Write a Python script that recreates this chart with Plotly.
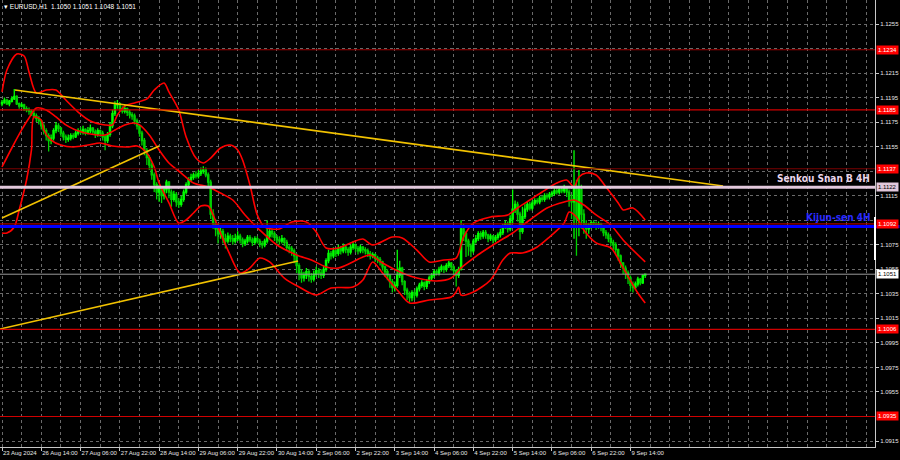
import plotly.graph_objects as go

# ---------------- data (EURUSD H1, bar index 0 = 23 Aug 2024 22:00) ----------------
opens = [1.1190,1.1191,1.1193,1.1190,1.1192,1.1194,1.1196,1.1190,1.1188,1.1189,
 1.1186,1.1185,1.1184,1.1182,1.1180,1.1178,1.1176,1.1172,1.1168,1.1164,
 1.1160,1.1162,1.1168,1.1172,1.1170,1.1166,1.1163,1.1161,1.1162,1.1164,
 1.1163,1.1166,1.1168,1.1167,1.1169,1.1166,1.1168,1.1170,1.1167,1.1165,
 1.1168,1.1166,1.1163,1.1160,1.1165,1.1172,1.1182,1.1189,1.1190,1.1186,
 1.1184,1.1186,1.1183,1.1181,1.1180,1.1176,1.1172,1.1166,1.1160,1.1152,
 1.1146,1.1140,1.1132,1.1124,1.1118,1.1122,1.1115,1.1120,1.1126,1.1118,
 1.1112,1.1116,1.1110,1.1108,1.1112,1.1118,1.1124,1.1128,1.1130,1.1132,
 1.1131,1.1133,1.1135,1.1136,1.1132,1.1126,1.1100,1.1092,1.1088,1.1084,
 1.1086,1.1080,1.1078,1.1082,1.1080,1.1078,1.1080,1.1082,1.1079,1.1076,
 1.1078,1.1081,1.1079,1.1077,1.1080,1.1078,1.1076,1.1075,1.1078,1.1082,
 1.1086,1.1084,1.1081,1.1079,1.1078,1.1080,1.1077,1.1073,1.1072,1.1070,
 1.1066,1.1058,1.1052,1.1048,1.1050,1.1053,1.1049,1.1047,1.1051,1.1054,
 1.1052,1.1050,1.1055,1.1062,1.1068,1.1066,1.1070,1.1068,1.1072,1.1070,
 1.1073,1.1071,1.1069,1.1073,1.1075,1.1072,1.1070,1.1073,1.1071,1.1070,
 1.1068,1.1066,1.1067,1.1064,1.1063,1.1061,1.1057,1.1053,1.1050,1.1045,
 1.1040,1.1042,1.1050,1.1056,1.1045,1.1038,1.1035,1.1032,1.1036,1.1034,
 1.1039,1.1042,1.1044,1.1041,1.1045,1.1048,1.1050,1.1053,1.1052,1.1055,
 1.1057,1.1055,1.1058,1.1060,1.1057,1.1054,1.1050,1.1055,1.1088,1.1084,
 1.1078,1.1074,1.1070,1.1078,1.1080,1.1084,1.1082,1.1085,1.1083,1.1080,
 1.1082,1.1079,1.1081,1.1083,1.1085,1.1090,1.1092,1.1088,1.1096,1.1104,
 1.1108,1.1100,1.1086,1.1098,1.1104,1.1108,1.1105,1.1109,1.1111,1.1110,
 1.1113,1.1112,1.1115,1.1114,1.1116,1.1117,1.1119,1.1118,1.1120,1.1119,
 1.1121,1.1118,1.1112,1.1110,1.1122,1.1096,1.1120,1.1100,1.1092,1.1088,
 1.1091,1.1093,1.1092,1.1090,1.1092,1.1089,1.1085,1.1083,1.1080,1.1077,
 1.1075,1.1071,1.1066,1.1060,1.1056,1.1052,1.1048,1.1042,1.1040,1.1043,
 1.1047,1.1044,1.1050]

highs = [1.1193,1.1195,1.1194,1.1193,1.1196,1.1202,1.1197,1.1191,1.1191,1.1190,
 1.1188,1.1187,1.1185,1.1184,1.1182,1.1180,1.1177,1.1174,1.1170,1.1166,
 1.1165,1.1170,1.1175,1.1174,1.1171,1.1168,1.1165,1.1165,1.1166,1.1166,
 1.1168,1.1170,1.1171,1.1172,1.1170,1.1171,1.1173,1.1171,1.1169,1.1170,
 1.1169,1.1168,1.1165,1.1167,1.1175,1.1185,1.1192,1.1193,1.1191,1.1188,
 1.1189,1.1187,1.1185,1.1183,1.1182,1.1178,1.1173,1.1168,1.1162,1.1154,
 1.1148,1.1142,1.1134,1.1126,1.1124,1.1123,1.1122,1.1128,1.1127,1.1120,
 1.1119,1.1118,1.1113,1.1115,1.1120,1.1126,1.1130,1.1133,1.1134,1.1135,
 1.1136,1.1138,1.1139,1.1138,1.1134,1.1128,1.1104,1.1096,1.1092,1.1090,
 1.1088,1.1084,1.1085,1.1084,1.1083,1.1084,1.1086,1.1084,1.1081,1.1080,
 1.1083,1.1083,1.1081,1.1082,1.1082,1.1080,1.1078,1.1080,1.1095,1.1088,
 1.1088,1.1086,1.1083,1.1082,1.1083,1.1081,1.1079,1.1075,1.1074,1.1072,
 1.1068,1.1060,1.1055,1.1053,1.1056,1.1055,1.1052,1.1054,1.1057,1.1056,
 1.1055,1.1058,1.1064,1.1071,1.1070,1.1073,1.1072,1.1075,1.1074,1.1076,
 1.1075,1.1073,1.1075,1.1078,1.1076,1.1074,1.1075,1.1074,1.1073,1.1072,
 1.1070,1.1069,1.1068,1.1066,1.1065,1.1062,1.1058,1.1055,1.1051,1.1047,
 1.1045,1.1071,1.1062,1.1057,1.1046,1.1040,1.1037,1.1038,1.1038,1.1041,
 1.1044,1.1046,1.1045,1.1047,1.1050,1.1052,1.1055,1.1055,1.1057,1.1059,
 1.1058,1.1060,1.1062,1.1061,1.1058,1.1055,1.1057,1.1095,1.1092,1.1086,
 1.1080,1.1076,1.1080,1.1083,1.1086,1.1086,1.1087,1.1087,1.1084,1.1084,
 1.1083,1.1083,1.1085,1.1088,1.1092,1.1095,1.1094,1.1099,1.1120,1.1111,
 1.1110,1.1102,1.1106,1.1108,1.1110,1.1110,1.1111,1.1113,1.1113,1.1115,
 1.1115,1.1117,1.1117,1.1118,1.1119,1.1121,1.1121,1.1123,1.1122,1.1124,
 1.1122,1.1120,1.1116,1.1152,1.1128,1.1136,1.1124,1.1104,1.1095,1.1093,
 1.1095,1.1095,1.1094,1.1094,1.1093,1.1090,1.1087,1.1085,1.1082,1.1079,
 1.1077,1.1072,1.1067,1.1061,1.1058,1.1054,1.1050,1.1045,1.1045,1.1049,
 1.1048,1.1051,1.1051]

lows = [1.1188,1.1190,1.1189,1.1188,1.1191,1.1193,1.1189,1.1186,1.1187,1.1184,
 1.1183,1.1181,1.1180,1.1178,1.1175,1.1173,1.1169,1.1165,1.1160,1.1151,
 1.1157,1.1160,1.1166,1.1167,1.1163,1.1160,1.1158,1.1159,1.1160,1.1161,
 1.1162,1.1164,1.1165,1.1165,1.1164,1.1165,1.1166,1.1165,1.1162,1.1163,
 1.1163,1.1160,1.1152,1.1158,1.1163,1.1170,1.1180,1.1186,1.1184,1.1182,
 1.1182,1.1180,1.1178,1.1177,1.1173,1.1169,1.1163,1.1156,1.1148,1.1140,
 1.1136,1.1128,1.1118,1.1112,1.1110,1.1109,1.1112,1.1117,1.1113,1.1106,
 1.1110,1.1106,1.1105,1.1106,1.1110,1.1116,1.1122,1.1126,1.1128,1.1129,
 1.1129,1.1131,1.1133,1.1130,1.1122,1.1096,1.1088,1.1082,1.1076,1.1080,
 1.1076,1.1072,1.1076,1.1077,1.1075,1.1076,1.1078,1.1076,1.1073,1.1074,
 1.1076,1.1077,1.1074,1.1075,1.1076,1.1073,1.1072,1.1073,1.1076,1.1080,
 1.1081,1.1078,1.1076,1.1075,1.1076,1.1074,1.1070,1.1068,1.1066,1.1060,
 1.1052,1.1046,1.1044,1.1045,1.1047,1.1045,1.1044,1.1045,1.1049,1.1048,
 1.1047,1.1048,1.1053,1.1060,1.1063,1.1064,1.1065,1.1066,1.1067,1.1068,
 1.1068,1.1066,1.1067,1.1071,1.1069,1.1067,1.1068,1.1068,1.1067,1.1065,
 1.1063,1.1064,1.1061,1.1060,1.1058,1.1054,1.1049,1.1046,1.1040,1.1036,
 1.1037,1.1040,1.1048,1.1042,1.1034,1.1030,1.1028,1.1029,1.1030,1.1032,
 1.1037,1.1040,1.1038,1.1039,1.1043,1.1046,1.1048,1.1050,1.1050,1.1053,
 1.1052,1.1053,1.1056,1.1054,1.1050,1.1041,1.1048,1.1054,1.1078,1.1065,
 1.1066,1.1065,1.1068,1.1076,1.1078,1.1079,1.1080,1.1080,1.1077,1.1078,
 1.1076,1.1077,1.1079,1.1081,1.1083,1.1088,1.1085,1.1086,1.1092,1.1101,
 1.1094,1.1079,1.1084,1.1096,1.1102,1.1103,1.1103,1.1107,1.1108,1.1108,
 1.1110,1.1110,1.1112,1.1112,1.1114,1.1115,1.1116,1.1116,1.1117,1.1117,
 1.1114,1.1106,1.1096,1.1080,1.1066,1.1082,1.1088,1.1084,1.1080,1.1084,
 1.1088,1.1089,1.1087,1.1088,1.1086,1.1082,1.1080,1.1077,1.1074,1.1071,
 1.1067,1.1062,1.1056,1.1051,1.1047,1.1043,1.1037,1.1036,1.1038,1.1041,
 1.1042,1.1043,1.1048]

closes = [1.1191,1.1193,1.1190,1.1192,1.1194,1.1196,1.1190,1.1188,1.1189,1.1186,
 1.1185,1.1184,1.1182,1.1180,1.1178,1.1176,1.1172,1.1168,1.1164,1.1160,
 1.1162,1.1168,1.1172,1.1170,1.1166,1.1163,1.1161,1.1162,1.1164,1.1163,
 1.1166,1.1168,1.1167,1.1169,1.1166,1.1168,1.1170,1.1167,1.1165,1.1168,
 1.1166,1.1163,1.1160,1.1165,1.1172,1.1182,1.1189,1.1190,1.1186,1.1184,
 1.1186,1.1183,1.1181,1.1180,1.1176,1.1172,1.1166,1.1160,1.1152,1.1146,
 1.1140,1.1132,1.1124,1.1118,1.1122,1.1115,1.1120,1.1126,1.1118,1.1112,
 1.1116,1.1110,1.1108,1.1112,1.1118,1.1124,1.1128,1.1130,1.1132,1.1131,
 1.1133,1.1135,1.1136,1.1132,1.1126,1.1100,1.1092,1.1088,1.1084,1.1086,
 1.1080,1.1078,1.1082,1.1080,1.1078,1.1080,1.1082,1.1079,1.1076,1.1078,
 1.1081,1.1079,1.1077,1.1080,1.1078,1.1076,1.1075,1.1078,1.1082,1.1086,
 1.1084,1.1081,1.1079,1.1078,1.1080,1.1077,1.1073,1.1072,1.1070,1.1066,
 1.1058,1.1052,1.1048,1.1050,1.1053,1.1049,1.1047,1.1051,1.1054,1.1052,
 1.1050,1.1055,1.1062,1.1068,1.1066,1.1070,1.1068,1.1072,1.1070,1.1073,
 1.1071,1.1069,1.1073,1.1075,1.1072,1.1070,1.1073,1.1071,1.1070,1.1068,
 1.1066,1.1067,1.1064,1.1063,1.1061,1.1057,1.1053,1.1050,1.1045,1.1040,
 1.1042,1.1050,1.1056,1.1045,1.1038,1.1035,1.1032,1.1036,1.1034,1.1039,
 1.1042,1.1044,1.1041,1.1045,1.1048,1.1050,1.1053,1.1052,1.1055,1.1057,
 1.1055,1.1058,1.1060,1.1057,1.1054,1.1050,1.1055,1.1088,1.1084,1.1078,
 1.1074,1.1070,1.1078,1.1080,1.1084,1.1082,1.1085,1.1083,1.1080,1.1082,
 1.1079,1.1081,1.1083,1.1085,1.1090,1.1092,1.1088,1.1096,1.1104,1.1108,
 1.1100,1.1086,1.1098,1.1104,1.1108,1.1105,1.1109,1.1111,1.1110,1.1113,
 1.1112,1.1115,1.1114,1.1116,1.1117,1.1119,1.1118,1.1120,1.1119,1.1121,
 1.1118,1.1112,1.1110,1.1122,1.1096,1.1120,1.1100,1.1092,1.1088,1.1091,
 1.1093,1.1092,1.1090,1.1092,1.1089,1.1085,1.1083,1.1080,1.1077,1.1075,
 1.1071,1.1066,1.1060,1.1056,1.1052,1.1048,1.1042,1.1040,1.1043,1.1047,
 1.1044,1.1050,1.1051]

bars = list(range(len(closes)))

# Bollinger-type envelope (4H): bar position, price
upper_x = [0, 2, 6, 9, 11, 14, 18, 22, 26, 31, 36, 42, 45, 47, 50, 54, 59, 62, 66, 68,
           72, 75, 79, 82, 85, 89, 93, 96, 98, 101, 104, 107, 113, 118, 124, 128, 132, 137,
           143, 147, 151, 159, 163, 169, 174, 180, 185, 188, 192, 199, 206, 210, 215, 220,
           226, 230, 233, 235, 238, 242, 246, 251, 253, 257, 262]
upper_y = [1.11996, 1.12175, 1.12305, 1.12289, 1.12159, 1.11987, 1.12012, 1.12012, 1.11930,
           1.11832, 1.11759, 1.11727, 1.11727, 1.11808, 1.11881, 1.11906, 1.11939, 1.12012,
           1.12069, 1.11996, 1.11849, 1.11629, 1.11457, 1.11417, 1.11457, 1.11539, 1.11563,
           1.11523, 1.11441, 1.11237, 1.10993, 1.10895, 1.10879, 1.10936, 1.10936, 1.10854,
           1.10724, 1.10724, 1.10773, 1.10797, 1.10748, 1.10813, 1.10805, 1.10707, 1.10610,
           1.10626, 1.10642, 1.10813, 1.10927, 1.10977, 1.10993, 1.11050, 1.11115, 1.11180,
           1.11254, 1.11278, 1.11221, 1.11303, 1.11335, 1.11319, 1.11221, 1.11091, 1.11034,
           1.11050, 1.10952]

middle_x = [0, 4, 8, 11, 14, 18, 22, 26, 30, 36, 42, 46, 50, 54, 56, 60, 64, 68, 73, 78,
            84, 89, 94, 99, 105, 112, 120, 126, 132, 137, 142, 147, 150, 155, 163, 169, 177,
            183, 187, 195, 202, 208, 215, 222, 229, 233, 237, 242, 248, 253, 262]
middle_y = [1.11384, 1.11539, 1.11686, 1.11784, 1.11865, 1.11849, 1.11792, 1.11727, 1.11686,
            1.11653, 1.11645, 1.11686, 1.11727, 1.11743, 1.11727, 1.11645, 1.11523, 1.11417,
            1.11335, 1.11254, 1.11221, 1.11172, 1.11115, 1.10993, 1.10870, 1.10748, 1.10667,
            1.10626, 1.10569, 1.10561, 1.10601, 1.10650, 1.10667, 1.10601, 1.10520, 1.10479,
            1.10455, 1.10479, 1.10561, 1.10683, 1.10773, 1.10846, 1.10952, 1.11050, 1.11099,
            1.11115, 1.11074, 1.10993, 1.10911, 1.10789, 1.10610]

lower_x = [0, 2, 5, 7, 10, 12, 13, 16, 17, 20, 24, 29, 35, 40, 45, 51, 55, 59, 62, 64, 68,
           72, 75, 78, 81, 84, 86, 89, 92, 97, 101, 105, 109, 115, 121, 128, 134, 143, 147,
           151, 155, 161, 166, 174, 183, 185, 186, 187, 192, 199, 204, 207, 212, 218, 223,
           229, 231, 234, 237, 242, 248, 253, 259, 262]
lower_y = [1.10846, 1.10846, 1.10895, 1.11033, 1.11278, 1.11523, 1.11792, 1.11767, 1.11686,
           1.11604, 1.11563, 1.11547, 1.11563, 1.11580, 1.11555, 1.11547, 1.11555, 1.11498,
           1.11384, 1.11254, 1.11091, 1.10927, 1.10952, 1.11009, 1.11066, 1.11066, 1.10993,
           1.10846, 1.10707, 1.10520, 1.10561, 1.10642, 1.10610, 1.10479, 1.10406, 1.10340,
           1.10398, 1.10406, 1.10463, 1.10610, 1.10520, 1.10381, 1.10275, 1.10300, 1.10324,
           1.10365, 1.10406, 1.10340, 1.10365, 1.10463, 1.10626, 1.10683, 1.10683, 1.10732,
           1.10813, 1.10927, 1.11017, 1.10976, 1.10870, 1.10765, 1.10724, 1.10561, 1.10357,
           1.10275]

# trend lines (bar position, price)
trend_down_x = [5.3, 293.7]
trend_down_y = [1.12012, 1.11229]
trend_up1_x = [0.0, 64.0]
trend_up1_y = [1.10968, 1.11555]
trend_up2_x = [-0.8, 120.6]
trend_up2_y = [1.10063, 1.10618]

# horizontal levels
red_levels = [1.1234, 1.1185, 1.1137, 1.1092, 1.1006, 1.0935]
red_level_colors = ["#a00000", "#d00000", "#7a0000", "#a00000", "#d00000", "#d00000"]
senkou_b = 1.1122
kijun = 1.1090
last_price = 1.1051

# price scale: labelled ticks and the grid levels hidden under the level boxes
y_tick_vals = [1.0915, 1.0955, 1.0975, 1.0995, 1.1015, 1.1035, 1.1055, 1.1075,
               1.1115, 1.1155, 1.1175, 1.1195, 1.1215, 1.1255]
y_grid_hidden = [1.0935, 1.1095, 1.1135, 1.1235]

x_tick_pos = [0, 16, 32, 48, 64, 80, 96, 112, 128, 144, 160, 176, 192, 208, 224, 240, 256]
x_tick_text = ["23 Aug 2024", "26 Aug 14:00", "27 Aug 06:00", "27 Aug 22:00", "28 Aug 14:00",
               "29 Aug 06:00", "29 Aug 22:00", "30 Aug 14:00", "2 Sep 06:00", "2 Sep 22:00",
               "3 Sep 14:00", "4 Sep 06:00", "4 Sep 22:00", "5 Sep 14:00", "6 Sep 06:00",
               "6 Sep 22:00", "9 Sep 14:00"]
x_grid_minor = [8, 24, 40, 56, 72, 88, 104, 120, 136, 152, 168, 184, 200, 216, 232, 248,
                264, 272, 280, 288, 296, 304, 312, 320, 328, 336, 344, 352]

# ---------------- figure ----------------
SMALL = "Liberation Sans, Arial, sans-serif"
BIG = "DejaVu Sans Condensed, DejaVu Sans, sans-serif"
GRID = "#6a6a6a"

fig = go.Figure()

fig.add_trace(go.Candlestick(
    x=bars, open=opens, high=highs, low=lows, close=closes,
    increasing=dict(line=dict(color="#00ff00", width=1.3), fillcolor="#00ff00"),
    decreasing=dict(line=dict(color="#00d000", width=1.3), fillcolor="#00a000"),
    whiskerwidth=0, hoverinfo="skip"))

for bx, by in [(upper_x, upper_y), (middle_x, middle_y), (lower_x, lower_y)]:
    fig.add_trace(go.Scatter(x=bx, y=by, mode="lines",
                             line=dict(color="#ff0000", width=1.6, shape="spline", smoothing=0.8),
                             hoverinfo="skip"))

for tx, ty in [(trend_down_x, trend_down_y), (trend_up1_x, trend_up1_y), (trend_up2_x, trend_up2_y)]:
    fig.add_trace(go.Scatter(x=tx, y=ty, mode="lines",
                             line=dict(color="#f2c200", width=1.6), hoverinfo="skip"))

shapes = []
for lv, col in zip(red_levels, red_level_colors):
    shapes.append(dict(type="line", xref="x domain", x0=0, x1=1, yref="y", y0=lv, y1=lv,
                       line=dict(color=col, width=1.2)))
shapes.append(dict(type="line", xref="x domain", x0=0, x1=1, yref="y", y0=last_price, y1=last_price,
                   line=dict(color="#9a9a9a", width=1)))
shapes.append(dict(type="line", xref="x domain", x0=0, x1=1, yref="y", y0=senkou_b, y1=senkou_b,
                   line=dict(color="#e2c8dc", width=3)))
shapes.append(dict(type="line", xref="paper", x0=0, x1=1.028, yref="y", y0=kijun, y1=kijun,
                   line=dict(color="#0000ff", width=3)))
shapes.append(dict(type="line", xref="paper", x0=1, x1=1, yref="y", y0=1.10976, y1=1.10626,
                   line=dict(color="#ffffff", width=2)))

annotations = [
    dict(xref="paper", yref="paper", x=0, y=1, xanchor="left", yanchor="top", xshift=2, yshift=-1,
         text="\u25be EURUSD,H1  1.1050 1.1051 1.1048 1.1051", showarrow=False,
         font=dict(family=SMALL, size=6.5, color="#ffffff")),
    dict(xref="x domain", yref="y", x=0.997, y=senkou_b, xanchor="right", yanchor="bottom", yshift=1,
         text="<b>Senkou Snan B 4H</b>", showarrow=False,
         font=dict(family=BIG, size=10, color="#ead6ea")),
    dict(xref="x domain", yref="y", x=0.997, y=kijun, xanchor="right", yanchor="bottom", yshift=1,
         text="<b>Kijun-sen 4H</b>", showarrow=False,
         font=dict(family=BIG, size=10, color="#2a2aff")),
]
for lv in red_levels:
    annotations.append(dict(xref="paper", yref="y", x=1, y=lv, xanchor="left", yanchor="middle",
                            xshift=1, text=f"{lv:.4f}", showarrow=False, bgcolor="#ff0000",
                            borderpad=1, font=dict(family=SMALL, size=6, color="#ffffff")))
annotations.append(dict(xref="paper", yref="y", x=1, y=senkou_b, xanchor="left", yanchor="middle",
                        xshift=1, text=f"{senkou_b:.4f}", showarrow=False, bgcolor="#e2c8dc",
                        borderpad=1, font=dict(family=SMALL, size=6, color="#000000")))
annotations.append(dict(xref="paper", yref="y", x=1, y=last_price, xanchor="left", yanchor="middle",
                        xshift=1, text=f"{last_price:.4f}", showarrow=False, bgcolor="#ffffff",
                        borderpad=1, font=dict(family=SMALL, size=6, color="#000000")))

fig.update_layout(
    width=900, height=460, margin=dict(l=0, r=25, t=0, b=13, autoexpand=False),
    paper_bgcolor="#000000", plot_bgcolor="#000000", showlegend=False,
    shapes=shapes, annotations=annotations,
    xaxis=dict(range=[-0.815, 355.6], tickmode="array",
               tickvals=x_tick_pos, ticktext=x_tick_text, tickangle=0,
               ticks="outside", ticklen=3, tickcolor="#c8c8c8",
               ticklabelposition="outside right", automargin=False,
               tickfont=dict(family=SMALL, size=6, color="#e6e6e6"),
               showgrid=True, gridcolor=GRID, griddash="3px,3px", gridwidth=1,
               minor=dict(tickmode="array", tickvals=x_grid_minor, showgrid=True,
                          gridcolor=GRID, griddash="3px,3px", ticks=""),
               showline=True, linecolor="#c8c8c8", linewidth=1, mirror=True,
               zeroline=False, rangeslider=dict(visible=False), fixedrange=True),
    yaxis=dict(side="right", range=[1.091012, 1.127457], tickmode="array",
               tickvals=y_tick_vals, tickformat=".4f", automargin=False,
               ticks="outside", ticklen=3, tickcolor="#c8c8c8",
               tickfont=dict(family=SMALL, size=6, color="#e6e6e6"),
               showgrid=True, gridcolor=GRID, griddash="3px,3px", gridwidth=1,
               minor=dict(tickmode="array", tickvals=y_grid_hidden, showgrid=True,
                          gridcolor=GRID, griddash="3px,3px", ticks=""),
               showline=True, linecolor="#c8c8c8", linewidth=1, mirror=True,
               zeroline=False, fixedrange=True),
)

fig.write_html("out.html", config={"displayModeBar": False},
               post_script="document.body.style.margin='0';document.body.style.background='#000';")
